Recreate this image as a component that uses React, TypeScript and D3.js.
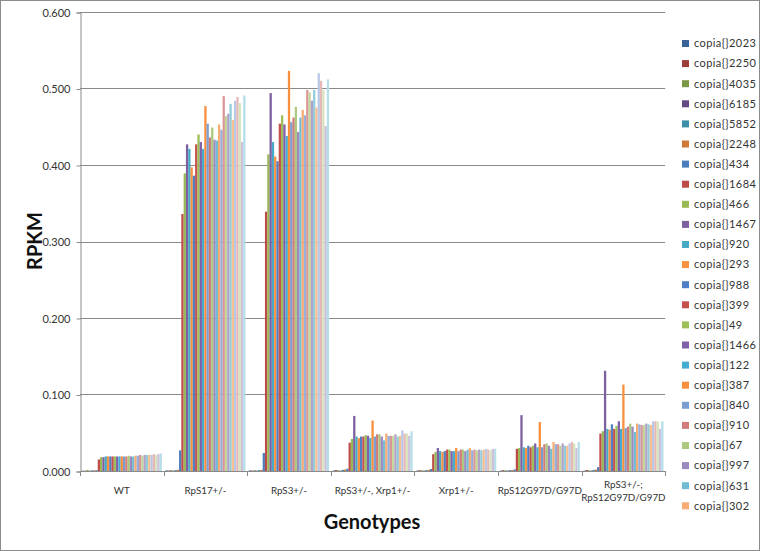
import React, { useRef, useEffect } from "react";
import * as d3 from "d3";

const genotypes = [
  "WT",
  "RpS17+/-",
  "RpS3+/-",
  "RpS3+/-, Xrp1+/-",
  "Xrp1+/-",
  "RpS12G97D/G97D",
  "RpS3+/-;\nRpS12G97D/G97D",
];

// only the first 24 series fit in the legend
const legendNames = [
  "copia{}2023", "copia{}2250", "copia{}4035", "copia{}6185", "copia{}5852", "copia{}2248",
  "copia{}434", "copia{}1684", "copia{}466", "copia{}1467", "copia{}920", "copia{}293",
  "copia{}988", "copia{}399", "copia{}49", "copia{}1466", "copia{}122", "copia{}387",
  "copia{}840", "copia{}910", "copia{}67", "copia{}997", "copia{}631", "copia{}302",
];

const yTicks = [0, 0.1, 0.2, 0.3, 0.4, 0.5, 0.6];

// RPKM per series (35 series) for each genotype
const wt = [
  0.0004, 0.0003, 0.0012, 0.0003, 0.0009, 0.0009, 0.001,
  0.015, 0.018, 0.018, 0.019, 0.019, 0.019, 0.019, 0.019, 0.019, 0.019, 0.019,
  0.019, 0.019, 0.02, 0.019, 0.019, 0.02, 0.02, 0.021, 0.02, 0.021, 0.021,
  0.021, 0.021, 0.022, 0.021, 0.022, 0.023,
];
const rps17 = [
  0.0008, 0.0006, 0.001, 0.0005, 0.0012, 0.0015, 0.027,
  0.336, 0.389, 0.427, 0.421, 0.397, 0.386, 0.427, 0.44, 0.43, 0.421, 0.477,
  0.454, 0.436, 0.449, 0.433, 0.432, 0.453, 0.446, 0.49, 0.464, 0.467, 0.48,
  0.459, 0.484, 0.489, 0.481, 0.43, 0.491,
];
const rps3 = [
  0.0008, 0.0006, 0.001, 0.0005, 0.0012, 0.0015, 0.0235,
  0.339, 0.414, 0.494, 0.43, 0.411, 0.405, 0.454, 0.465, 0.453, 0.438, 0.523,
  0.456, 0.462, 0.476, 0.443, 0.462, 0.472, 0.465, 0.498, 0.495, 0.484, 0.498,
  0.475, 0.52, 0.51, 0.498, 0.451, 0.512,
];
const rps3Xrp1 = [
  0.0006, 0.0012, 0.0008, 0.0005, 0.0015, 0.0018, 0.003,
  0.037, 0.042, 0.072, 0.045, 0.043, 0.045, 0.045, 0.047, 0.046, 0.043, 0.066,
  0.045, 0.048, 0.048, 0.045, 0.04, 0.049, 0.046, 0.046, 0.046, 0.048, 0.045,
  0.046, 0.053, 0.049, 0.049, 0.046, 0.052,
];
const xrp1 = [
  0.0005, 0.001, 0.0008, 0.0005, 0.0012, 0.0015, 0.0025,
  0.022, 0.025, 0.03, 0.026, 0.025, 0.026, 0.028, 0.028, 0.026, 0.026, 0.03,
  0.026, 0.028, 0.028, 0.026, 0.028, 0.03, 0.027, 0.028, 0.027, 0.028, 0.027,
  0.028, 0.029, 0.028, 0.027, 0.029, 0.029,
];
const rps12 = [
  0.0005, 0.001, 0.0008, 0.0005, 0.0012, 0.0012, 0.002,
  0.029, 0.03, 0.073, 0.031, 0.03, 0.033, 0.031, 0.033, 0.036, 0.031, 0.064,
  0.031, 0.035, 0.036, 0.033, 0.029, 0.038, 0.035, 0.035, 0.033, 0.036, 0.033,
  0.033, 0.036, 0.038, 0.036, 0.03, 0.038,
];
const rps3Rps12 = [
  0.0005, 0.0012, 0.0008, 0.0005, 0.0015, 0.0018, 0.005,
  0.049, 0.052, 0.131, 0.055, 0.054, 0.061, 0.055, 0.059, 0.065, 0.055, 0.113,
  0.056, 0.058, 0.062, 0.058, 0.051, 0.062, 0.061, 0.06, 0.06, 0.062, 0.061,
  0.06, 0.065, 0.065, 0.065, 0.055, 0.065,
];

const values = [wt, rps17, rps3, rps3Xrp1, xrp1, rps12, rps3Rps12];

// excel-like palette, 6 hues in lighter and lighter rounds
const palette = [
  "#3b6296", "#9c3c39", "#7a9745", "#614b82", "#3a8ea6", "#cf7a36",
  "#4a7ebb", "#be4b48", "#98b954", "#7d60a0", "#46aac5", "#f69240",
  "#4f7fc4", "#c4514e", "#9dbf58", "#7f5fa8", "#45aed0", "#f88f3c",
  "#7c9dd0", "#d07c7a", "#adc97f", "#9b88bd", "#74bcd4", "#f8ac74",
  "#95b0da", "#d99695", "#c3d69b", "#b3a2c7", "#92cddc", "#fabf8f",
  "#b9c8e6", "#e6b9b8", "#d7e4bd", "#ccc1da", "#b7dee8",
];

const font = "Lato, 'Open Sans', sans-serif";

const App = () => {
  const ref = useRef<SVGSVGElement>(null);

  useEffect(() => {
    const svg = d3.select(ref.current);
    svg.selectAll("*").remove();

    const left = 80;
    const right = 665.2;
    const top = 12;
    const bottom = 471;

    const x0 = d3.scaleBand().domain(genotypes).range([left, right]);
    const x1 = d3
      .scaleBand<number>()
      .domain(d3.range(wt.length))
      .range([0, x0.bandwidth()])
      .paddingInner(0)
      .paddingOuter(0.75);
    const y = d3.scaleLinear().domain([0, 0.6]).range([bottom, top]);

    svg
      .append("rect")
      .attr("x", 0.5)
      .attr("y", 0.5)
      .attr("width", 759)
      .attr("height", 550)
      .attr("fill", "#fff")
      .attr("stroke", "#8c8c8c");

    // gridlines
    svg
      .append("g")
      .selectAll("line")
      .data(yTicks.filter((d) => d > 0))
      .join("line")
      .attr("x1", left)
      .attr("x2", right)
      .attr("y1", (d) => Math.round(y(d)) + 0.5)
      .attr("y2", (d) => Math.round(y(d)) + 0.5)
      .attr("stroke", "#8a8a8a");

    // bars
    svg
      .append("g")
      .selectAll("g")
      .data(values)
      .join("g")
      .attr("transform", (d, i) => `translate(${x0(genotypes[i])},0)`)
      .selectAll("rect")
      .data((d) => d)
      .join("rect")
      .attr("x", (d, i) => x1(i)!)
      .attr("width", x1.bandwidth())
      .attr("y", (d) => y(d))
      .attr("height", (d) => bottom - y(d))
      .attr("fill", (d, i) => palette[i]);

    // y axis
    const yAxis = d3
      .axisLeft(y)
      .tickValues(yTicks)
      .tickFormat(d3.format(".3f"))
      .tickSize(4)
      .tickPadding(6);
    const ya = svg
      .append("g")
      .attr("transform", `translate(${left + 0.5},0.5)`)
      .call(yAxis);
    ya.select(".domain").attr("stroke", "#8a8a8a");
    ya.selectAll(".tick line").attr("stroke", "#8a8a8a");
    ya.selectAll(".tick text")
      .attr("font-family", font)
      .attr("font-size", 11)
      .attr("fill", "#333");

    // x axis
    svg
      .append("line")
      .attr("x1", left)
      .attr("x2", right)
      .attr("y1", bottom + 0.5)
      .attr("y2", bottom + 0.5)
      .attr("stroke", "#8a8a8a");
    const bounds = genotypes.map((g) => x0(g)!).concat([right]);
    svg
      .append("g")
      .selectAll("line")
      .data(bounds)
      .join("line")
      .attr("x1", (d) => Math.round(d) + 0.5)
      .attr("x2", (d) => Math.round(d) + 0.5)
      .attr("y1", bottom)
      .attr("y2", bottom + 5)
      .attr("stroke", "#8a8a8a");

    const labels = svg
      .append("g")
      .selectAll("text")
      .data(genotypes)
      .join("text")
      .attr("x", (d) => x0(d)! + x0.bandwidth() / 2)
      .attr("y", (d) => (d.includes("\n") ? 488 : 494))
      .attr("text-anchor", "middle")
      .attr("font-family", font)
      .attr("font-size", 9.8)
      .attr("fill", "#333");
    labels
      .selectAll("tspan")
      .data((d) => d.split("\n"))
      .join("tspan")
      .attr("x", function () {
        return (this.parentNode as SVGTextElement).getAttribute("x");
      })
      .attr("dy", (d, i) => (i === 0 ? 0 : 13))
      .text((d) => d);

    // axis titles
    svg
      .append("text")
      .attr("transform", `translate(42,241) rotate(-90)`)
      .attr("text-anchor", "middle")
      .attr("font-family", font)
      .attr("font-weight", "bold")
      .attr("font-size", 20)
      .attr("fill", "#111")
      .text("RPKM");
    svg
      .append("text")
      .attr("x", 372)
      .attr("y", 529)
      .attr("text-anchor", "middle")
      .attr("font-family", font)
      .attr("font-weight", "bold")
      .attr("font-size", 20)
      .attr("fill", "#111")
      .text("Genotypes");

    // legend
    const legend = svg
      .append("g")
      .selectAll("g")
      .data(legendNames)
      .join("g")
      .attr("transform", (d, i) => `translate(682,${43.5 + i * 20.1})`);
    legend
      .append("rect")
      .attr("x", 0)
      .attr("y", -3.5)
      .attr("width", 7)
      .attr("height", 7)
      .attr("fill", (d, i) => palette[i]);
    legend
      .append("text")
      .attr("x", 12)
      .attr("dy", "0.35em")
      .attr("font-family", font)
      .attr("font-size", 11)
      .attr("letter-spacing", 0.4)
      .attr("fill", "#333")
      .text((d) => d);
  }, []);

  return (
    <svg
      ref={ref}
      width={760}
      height={551}
      style={{ position: "absolute", left: 0, top: 0, display: "block" }}
    />
  );
};

export default App;
